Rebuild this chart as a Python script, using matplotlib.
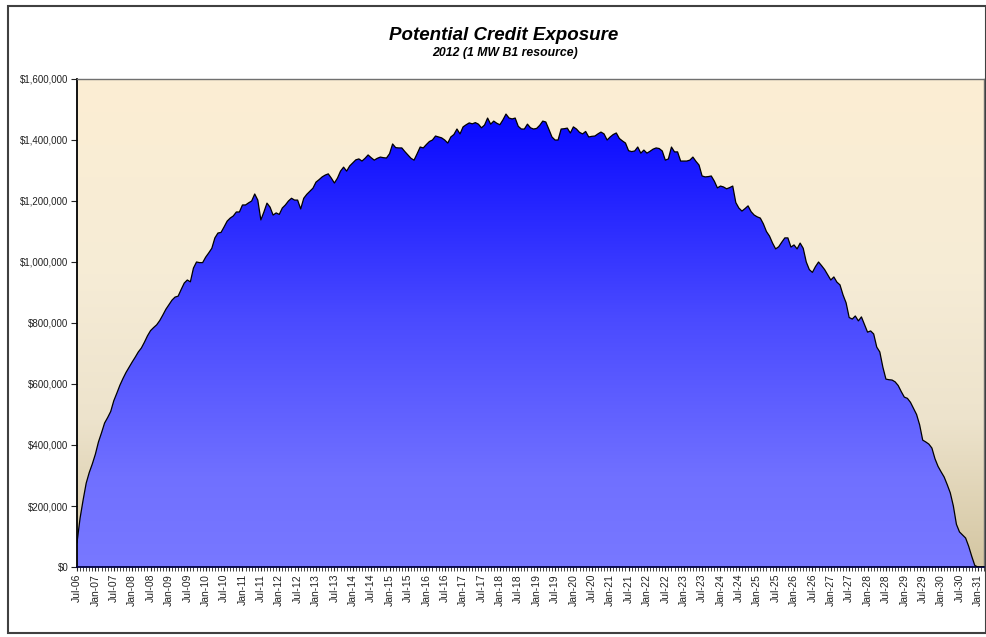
import numpy as np
import pandas as pd
import matplotlib
matplotlib.use('Agg')
from matplotlib import pyplot as plt
from matplotlib.colors import LinearSegmentedColormap
from matplotlib.patches import Rectangle
from matplotlib.ticker import FuncFormatter, MultipleLocator

plt.rcParams['font.family'] = ['Liberation Sans', 'DejaVu Sans']

# monthly points, Jul-06 .. Mar-31
months = pd.date_range('2006-07-01', '2031-03-01', freq='MS')

# potential credit exposure, $ (12 per row)
exposure = [
    80000, 160000, 220000, 275000, 310000, 338000, 370000, 410000, 440000, 472000, 490000, 510000,
    545000, 570000, 596000, 618000, 638000, 655000, 672000, 688000, 705000, 718000, 737000, 758000,
    775000, 785000, 794000, 808000, 826000, 845000, 860000, 875000, 885000, 888000, 910000, 931000,
    941000, 935000, 980000, 1000000, 998000, 998000, 1016000, 1030000, 1045000, 1079000, 1095000, 1097000,
    1115000, 1134000, 1144000, 1151000, 1164000, 1164000, 1187000, 1187000, 1194000, 1200000, 1223000, 1203000,
    1138000, 1164000, 1193000, 1180000, 1154000, 1161000, 1156000, 1177000, 1187000, 1200000, 1209000, 1203000,
    1203000, 1174000, 1209000, 1222000, 1232000, 1242000, 1262000, 1270000, 1279000, 1285000, 1289000, 1275000,
    1259000, 1275000, 1298000, 1311000, 1298000, 1315000, 1325000, 1335000, 1338000, 1331000, 1340000, 1351000,
    1342000, 1334000, 1340000, 1344000, 1342000, 1341000, 1355000, 1387000, 1375000, 1374000, 1374000, 1362000,
    1351000, 1340000, 1334000, 1355000, 1377000, 1374000, 1385000, 1395000, 1400000, 1413000, 1410000, 1407000,
    1400000, 1390000, 1410000, 1418000, 1436000, 1420000, 1443000, 1450000, 1456000, 1453000, 1457000, 1452000,
    1440000, 1449000, 1472000, 1452000, 1462000, 1455000, 1450000, 1466000, 1485000, 1472000, 1469000, 1472000,
    1445000, 1436000, 1436000, 1452000, 1440000, 1436000, 1438000, 1448000, 1462000, 1459000, 1435000, 1410000,
    1400000, 1400000, 1436000, 1437000, 1439000, 1423000, 1443000, 1436000, 1425000, 1420000, 1428000, 1410000,
    1412000, 1413000, 1420000, 1426000, 1420000, 1400000, 1410000, 1418000, 1423000, 1405000, 1397000, 1390000,
    1365000, 1362000, 1364000, 1377000, 1357000, 1367000, 1357000, 1363000, 1370000, 1374000, 1372000, 1364000,
    1334000, 1338000, 1377000, 1361000, 1361000, 1331000, 1331000, 1331000, 1334000, 1344000, 1330000, 1318000,
    1282000, 1279000, 1280000, 1282000, 1265000, 1243000, 1249000, 1246000, 1240000, 1244000, 1249000, 1195000,
    1177000, 1167000, 1175000, 1184000, 1165000, 1154000, 1148000, 1144000, 1125000, 1100000, 1085000, 1062000,
    1043000, 1050000, 1065000, 1079000, 1079000, 1049000, 1056000, 1043000, 1062000, 1045000, 1000000, 975000,
    966000, 985000, 1000000, 988000, 975000, 958000, 941000, 951000, 934000, 925000, 892000, 866000,
    818000, 813000, 823000, 807000, 820000, 795000, 770000, 774000, 764000, 721000, 705000, 655000,
    616000, 614000, 613000, 607000, 595000, 575000, 557000, 553000, 540000, 520000, 500000, 466000,
    416000, 410000, 403000, 390000, 355000, 330000, 312000, 295000, 270000, 243000, 200000, 140000,
    115000, 105000, 95000, 68000, 35000, 5000, 0, 0, 0,
]

title = 'Potential Credit Exposure'
subtitle = '2012 (1 MW B1 resource)'

x = np.arange(len(months))
tick_pos = x[::6]
tick_labels = [m.strftime('%b-%y') for m in months[::6]]

W, H = 987, 637
fig = plt.figure(figsize=(W / 100, H / 100), dpi=100)
fig.patch.set_facecolor('white')
ax = fig.add_axes([77 / W, 1 - 567 / H, (984 - 77) / W, (567 - 79) / H])

# plot area background, cream fading to tan at the bottom
bg_cmap = LinearSegmentedColormap.from_list(
    'bg', [(0, '#D4C6A2'), (0.3, '#EDE3CC'), (0.6, '#F6ECD6'), (1, '#FCEED3')])
ax.imshow(np.linspace(0, 1, 256).reshape(-1, 1), aspect='auto', cmap=bg_cmap,
          origin='lower', extent=[0, x[-1], 0, 1600000], zorder=0)

# area with blue gradient, clipped to the filled shape
fill = ax.fill_between(x, exposure, 0, color='none', lw=0)
blue_cmap = LinearSegmentedColormap.from_list(
    'blue', [(0, '#7878FF'), (0.2, '#7070FF'), (0.55, '#4A4AFF'), (1, '#0808FF')])
grad = ax.imshow(np.linspace(0, 1, 256).reshape(-1, 1), aspect='auto', cmap=blue_cmap,
                 origin='lower', extent=[0, x[-1], 0, max(exposure)], zorder=1)
grad.set_clip_path(fill.get_paths()[0], transform=ax.transData)
ax.plot(x, exposure, color='black', lw=0.9, zorder=3)

ax.set_xlim(0, x[-1])
ax.set_ylim(0, 1600000)

ax.yaxis.set_major_locator(MultipleLocator(200000))
ax.yaxis.set_major_formatter(FuncFormatter(lambda v, p: '${:,.0f}'.format(v)))
ax.set_xticks(tick_pos)
ax.set_xticklabels(tick_labels, rotation=90)
ax.set_xticks(x, minor=True)
ax.tick_params(axis='y', labelsize=7, length=4, width=0.8, pad=2, colors='#222222')
ax.tick_params(axis='x', which='major', labelsize=7.5, length=3, width=0.8, pad=2, colors='#222222')
ax.tick_params(axis='x', which='minor', length=3, width=0.6, color='#222222')

for side in ['left', 'bottom']:
    ax.spines[side].set_color('black')
    ax.spines[side].set_linewidth(1.3)
ax.spines['bottom'].set_color('#000040')
for side in ['top', 'right']:
    ax.spines[side].set_color('#707070')
    ax.spines[side].set_linewidth(1.0)

fig.text(504 / W, 1 - 35 / H, title, fontsize=13.5, fontweight='bold', style='italic',
         ha='center', va='center')
fig.text(505 / W, 1 - 53 / H, subtitle, fontsize=8.8, fontweight='bold', style='italic',
         ha='center', va='center')

# chart border
fig.patches.append(Rectangle((8 / W, 1 - 633 / H), (986 - 8) / W, (633 - 6) / H,
                             transform=fig.transFigure, fill=False, edgecolor='#404040', lw=1.5))

fig.savefig('out.png', dpi=100)
